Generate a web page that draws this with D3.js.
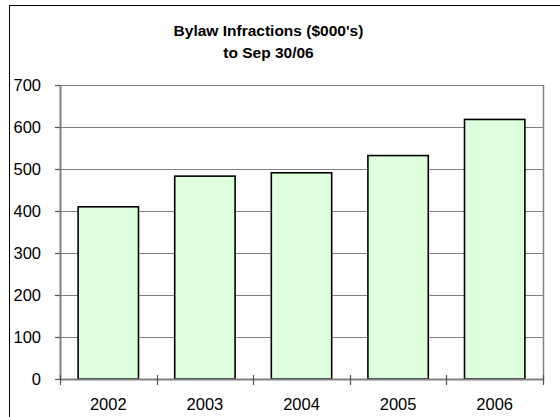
<!DOCTYPE html>
<html>
<head>
<meta charset="utf-8">
<script src="https://cdn.jsdelivr.net/npm/d3@7"></script>
<style>
  body { margin: 0; background: #fff; }
  svg { display: block; font-family: "Liberation Sans", Arial, sans-serif; }
</style>
</head>
<body>
<div id="chart"></div>
<script>
// chart values
let years = ['2002', '2003', '2004', '2005', '2006']
let amounts = [410, 483, 491, 532, 618]
let yTicks = [0, 100, 200, 300, 400, 500, 600, 700]
let titleLines = ["Bylaw Infractions ($000's)", "to Sep 30/06"]

let width = 560
let height = 417
let plot = {left: 60, right: 543, top: 85, bottom: 379}

let svg = d3.select('#chart').append('svg')
    .attr('width', width)
    .attr('height', height)

// outer chart border (runs off the right and bottom edges)
svg.append('rect')
    .attr('x', 9.5)
    .attr('y', 5.5)
    .attr('width', 600)
    .attr('height', 500)
    .attr('fill', 'none')
    .attr('stroke', '#000')
    .attr('stroke-width', 1)

let xScale = d3.scaleBand()
    .domain(years)
    .range([plot.left, plot.right])
    .paddingInner(0.375)
    .paddingOuter(0.1875)

let yScale = d3.scaleLinear()
    .domain([0, 700])
    .range([plot.bottom, plot.top])

// title
svg.selectAll('.title')
    .data(titleLines)
    .enter()
    .append('text')
        .attr('class', 'title')
        .attr('x', 268.5)
        .attr('y', (d, i) => 36 + i * 21.5)
        .attr('text-anchor', 'middle')
        .style('font-size', '15.5px')
        .style('font-weight', 'bold')
        .text(d => d)

// gridlines
svg.selectAll('.grid')
    .data(yTicks.filter(d => d > 0))
    .enter()
    .append('line')
        .attr('class', 'grid')
        .attr('x1', plot.left)
        .attr('x2', plot.right)
        .attr('y1', d => Math.round(yScale(d)) + 0.5)
        .attr('y2', d => Math.round(yScale(d)) + 0.5)
        .attr('stroke', '#808080')
        .attr('stroke-width', 1.2)

// right edge of plot area
svg.append('line')
    .attr('x1', plot.right + 0.5)
    .attr('x2', plot.right + 0.5)
    .attr('y1', plot.top)
    .attr('y2', plot.bottom)
    .attr('stroke', '#808080')
    .attr('stroke-width', 1.5)

// bars
svg.selectAll('.bar')
    .data(years)
    .enter()
    .append('rect')
        .attr('class', 'bar')
        .attr('x', d => xScale(d))
        .attr('y', (d, i) => yScale(amounts[i]))
        .attr('width', xScale.bandwidth())
        .attr('height', (d, i) => yScale(0) - yScale(amounts[i]))
        .attr('fill', '#ddffdd')
        .attr('stroke', '#000')
        .attr('stroke-width', 1.6)

// y axis
let yAxis = svg.append('g')
    .attr('transform', `translate(${plot.left},0)`)
    .call(d3.axisLeft(yScale).tickValues(yTicks).tickSize(5).tickPadding(14).tickSizeOuter(0))

yAxis.select('.domain').attr('stroke', '#808080').attr('stroke-width', 2)
yAxis.selectAll('.tick line').attr('stroke', '#555').attr('stroke-width', 1.2)
yAxis.selectAll('.tick text')
    .style('font-size', '16.5px')
    .attr('fill', '#000')

// x axis line and tick marks at category boundaries
svg.append('line')
    .attr('x1', plot.left)
    .attr('x2', plot.right + 1)
    .attr('y1', plot.bottom + 0.5)
    .attr('y2', plot.bottom + 0.5)
    .attr('stroke', '#808080')
    .attr('stroke-width', 2)

let boundaries = years.map(d => xScale(d) - xScale.step() * xScale.paddingInner() / 2)
boundaries.push(plot.right)

svg.selectAll('.xtick')
    .data(boundaries)
    .enter()
    .append('line')
        .attr('class', 'xtick')
        .attr('x1', d => Math.round(d) + 0.5)
        .attr('x2', d => Math.round(d) + 0.5)
        .attr('y1', plot.bottom - 4)
        .attr('y2', plot.bottom + 6)
        .attr('stroke', '#555')
        .attr('stroke-width', 1.2)

svg.selectAll('.xlabel')
    .data(years)
    .enter()
    .append('text')
        .attr('class', 'xlabel')
        .attr('x', d => xScale(d) + xScale.bandwidth() / 2)
        .attr('y', 410)
        .attr('text-anchor', 'middle')
        .style('font-size', '16.5px')
        .text(d => d)
</script>
</body>
</html>
